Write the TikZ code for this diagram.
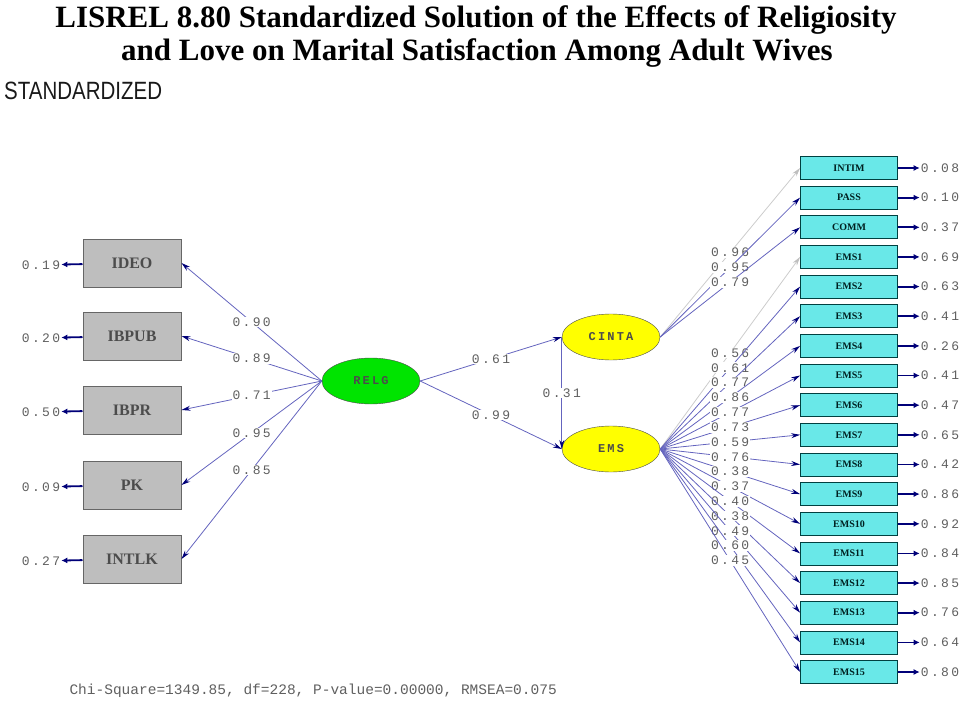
\documentclass[tikz,border=0pt]{standalone}
\usepackage{fontspec}
\setmainfont{Liberation Serif}
\newfontfamily\lisfont[LetterSpace=18]{Liberation Mono}
\newfontfamily\plainmono{Liberation Mono}
\newfontfamily\headsans{Liberation Sans}
\usepackage{tikz}
\usetikzlibrary{arrows.meta, shapes.geometric}

\definecolor{lisgray}{RGB}{190,190,190}
\definecolor{liscyan}{RGB}{105,232,232}
\definecolor{lisgreen}{RGB}{0,228,0}
\definecolor{lisyellow}{RGB}{255,255,0}
\definecolor{lisline}{RGB}{100,100,190}
\definecolor{lisnavy}{RGB}{0,0,120}
\definecolor{lisnum}{RGB}{95,95,95}

\begin{document}
\begin{tikzpicture}[x=1pt, y=-1pt,
    obs/.style={rectangle, draw=black!60, line width=1pt, fill=lisgray, minimum width=98pt, minimum height=48pt, font=\bfseries\fontsize{16}{16}\selectfont, text=black!70},
    ind/.style={rectangle, draw=teal!50!black, line width=0.8pt, fill=liscyan, minimum width=97pt, minimum height=23pt, inner sep=0pt, font=\bfseries\fontsize{10}{10}\selectfont, text=teal!25!black},
    lat/.style={ellipse, draw=black!70, inner sep=0pt, minimum width=98pt, minimum height=46pt, font=\lisfont\bfseries\fontsize{12}{12}\selectfont, text=black!70},
    num/.style={font=\lisfont\fontsize{13}{13}\selectfont, text=lisnum, inner sep=1pt},
    lbl/.style={num, fill=white, midway},
    loadarrow/.style={draw=lisline, line width=0.8pt, -{Stealth[length=9pt, width=5pt, color=lisnavy]}},
    fixarrow/.style={draw=gray!40, line width=0.8pt, -{Stealth[length=9pt, width=5pt, color=gray!50]}},
    errarrow/.style={draw=lisnavy, line width=1.8pt, -{Latex[length=6pt, width=6pt]}}]
  \useasboundingbox (0,0) rectangle (961,706);

  % headings
  \node[anchor=base, font=\bfseries\fontsize{31}{31}\selectfont] (title1) at (476,28) {LISREL 8.80 Standardized Solution of the Effects of Religiosity};
  \node[anchor=base, font=\bfseries\fontsize{31}{31}\selectfont] (title2) at (477,61) {and Love on Marital Satisfaction Among Adult Wives};
  \node[anchor=base west, inner sep=0pt, font=\headsans\fontsize{25}{25}\selectfont, text=black!90] (std) at (4,100) {\scalebox{0.82}[1]{STANDARDIZED}};

  % latent variables
  \node[lat, fill=lisgreen] (RELG) at (371,381) {RELG};
  \node[lat, fill=lisyellow] (CINTA) at (611,337) {CINTA};
  \node[lat, fill=lisyellow] (EMS) at (611,449) {EMS};

  % religiosity indicators
  \node[obs] (ideo) at (132,263) {IDEO};
  \node[obs] (ibpub) at (132,336) {IBPUB};
  \node[obs] (ibpr) at (132,410) {IBPR};
  \node[obs] (pk) at (132,485) {PK};
  \node[obs] (intlk) at (132,559) {INTLK};

  \node[num] (e-ideo) at (41,265) {0.19};
  \node[num] (e-ibpub) at (41,338) {0.20};
  \node[num] (e-ibpr) at (41,412) {0.50};
  \node[num] (e-pk) at (41,487) {0.09};
  \node[num] (e-intlk) at (41,561) {0.27};

  % love and satisfaction indicators
  \node[ind] (intim) at (849,168) {INTIM};
  \node[ind] (pass) at (849,197.6) {PASS};
  \node[ind] (comm) at (849,227.3) {COMM};
  \node[ind] (ems1) at (849,256.9) {EMS1};
  \node[ind] (ems2) at (849,286.6) {EMS2};
  \node[ind] (ems3) at (849,316.2) {EMS3};
  \node[ind] (ems4) at (849,345.9) {EMS4};
  \node[ind] (ems5) at (849,375.5) {EMS5};
  \node[ind] (ems6) at (849,405.2) {EMS6};
  \node[ind] (ems7) at (849,434.8) {EMS7};
  \node[ind] (ems8) at (849,464.5) {EMS8};
  \node[ind] (ems9) at (849,494.1) {EMS9};
  \node[ind] (ems10) at (849,523.8) {EMS10};
  \node[ind] (ems11) at (849,553.4) {EMS11};
  \node[ind] (ems12) at (849,583.1) {EMS12};
  \node[ind] (ems13) at (849,612.7) {EMS13};
  \node[ind] (ems14) at (849,642.4) {EMS14};
  \node[ind] (ems15) at (849,672) {EMS15};

  \node[num] (e-intim) at (940,168) {0.08};
  \node[num] (e-pass) at (940,197.6) {0.10};
  \node[num] (e-comm) at (940,227.3) {0.37};
  \node[num] (e-ems1) at (940,256.9) {0.69};
  \node[num] (e-ems2) at (940,286.6) {0.63};
  \node[num] (e-ems3) at (940,316.2) {0.41};
  \node[num] (e-ems4) at (940,345.9) {0.26};
  \node[num] (e-ems5) at (940,375.5) {0.41};
  \node[num] (e-ems6) at (940,405.2) {0.47};
  \node[num] (e-ems7) at (940,434.8) {0.65};
  \node[num] (e-ems8) at (940,464.5) {0.42};
  \node[num] (e-ems9) at (940,494.1) {0.86};
  \node[num] (e-ems10) at (940,523.8) {0.92};
  \node[num] (e-ems11) at (940,553.4) {0.84};
  \node[num] (e-ems12) at (940,583.1) {0.85};
  \node[num] (e-ems13) at (940,612.7) {0.76};
  \node[num] (e-ems14) at (940,642.4) {0.64};
  \node[num] (e-ems15) at (940,672) {0.80};

  % error arrows
  \draw[errarrow] (ideo) -- (e-ideo);
  \draw[errarrow] (ibpub) -- (e-ibpub);
  \draw[errarrow] (ibpr) -- (e-ibpr);
  \draw[errarrow] (pk) -- (e-pk);
  \draw[errarrow] (intlk) -- (e-intlk);
  \draw[errarrow] (intim) -- (e-intim);
  \draw[errarrow] (pass) -- (e-pass);
  \draw[errarrow] (comm) -- (e-comm);
  \draw[errarrow] (ems1) -- (e-ems1);
  \draw[errarrow] (ems2) -- (e-ems2);
  \draw[errarrow] (ems3) -- (e-ems3);
  \draw[errarrow] (ems4) -- (e-ems4);
  \draw[errarrow] (ems5) -- (e-ems5);
  \draw[errarrow] (ems6) -- (e-ems6);
  \draw[errarrow] (ems7) -- (e-ems7);
  \draw[errarrow] (ems8) -- (e-ems8);
  \draw[errarrow] (ems9) -- (e-ems9);
  \draw[errarrow] (ems10) -- (e-ems10);
  \draw[errarrow] (ems11) -- (e-ems11);
  \draw[errarrow] (ems12) -- (e-ems12);
  \draw[errarrow] (ems13) -- (e-ems13);
  \draw[errarrow] (ems14) -- (e-ems14);
  \draw[errarrow] (ems15) -- (e-ems15);

  % loadings of RELG
  \draw[loadarrow] (RELG.west) -- node[lbl] {0.90} (ideo.east);
  \draw[loadarrow] (RELG.west) -- node[lbl] {0.89} (ibpub.east);
  \draw[loadarrow] (RELG.west) -- node[lbl] {0.71} (ibpr.east);
  \draw[loadarrow] (RELG.west) -- node[lbl] {0.95} (pk.east);
  \draw[loadarrow] (RELG.west) -- node[lbl] {0.85} (intlk.east);

  % structural paths
  \draw[loadarrow] (RELG.east) -- node[lbl] {0.61} (CINTA.west);
  \draw[loadarrow] (RELG.east) -- node[lbl] {0.99} (EMS.west);
  \draw[loadarrow] (CINTA.west) -- node[lbl] {0.31} (EMS.west);

  % loadings of CINTA
  \draw[fixarrow] (CINTA.east) -- node[lbl] {0.96} (intim.west);
  \draw[loadarrow] (CINTA.east) -- node[lbl] {0.95} (pass.west);
  \draw[loadarrow] (CINTA.east) -- node[lbl] {0.79} (comm.west);

  % loadings of EMS
  \draw[fixarrow] (EMS.east) -- node[lbl] {0.56} (ems1.west);
  \draw[loadarrow] (EMS.east) -- node[lbl] {0.61} (ems2.west);
  \draw[loadarrow] (EMS.east) -- node[lbl] {0.77} (ems3.west);
  \draw[loadarrow] (EMS.east) -- node[lbl] {0.86} (ems4.west);
  \draw[loadarrow] (EMS.east) -- node[lbl] {0.77} (ems5.west);
  \draw[loadarrow] (EMS.east) -- node[lbl] {0.73} (ems6.west);
  \draw[loadarrow] (EMS.east) -- node[lbl] {0.59} (ems7.west);
  \draw[loadarrow] (EMS.east) -- node[lbl] {0.76} (ems8.west);
  \draw[loadarrow] (EMS.east) -- node[lbl] {0.38} (ems9.west);
  \draw[loadarrow] (EMS.east) -- node[lbl] {0.37} (ems10.west);
  \draw[loadarrow] (EMS.east) -- node[lbl] {0.40} (ems11.west);
  \draw[loadarrow] (EMS.east) -- node[lbl] {0.38} (ems12.west);
  \draw[loadarrow] (EMS.east) -- node[lbl] {0.49} (ems13.west);
  \draw[loadarrow] (EMS.east) -- node[lbl] {0.60} (ems14.west);
  \draw[loadarrow] (EMS.east) -- node[lbl] {0.45} (ems15.west);

  % fit statistics
  \node[anchor=base west, font=\plainmono\fontsize{14.5}{14.5}\selectfont, text=lisnum] (fit) at (66,694) {Chi-Square=1349.85, df=228, P-value=0.00000, RMSEA=0.075};
\end{tikzpicture}
\end{document}
